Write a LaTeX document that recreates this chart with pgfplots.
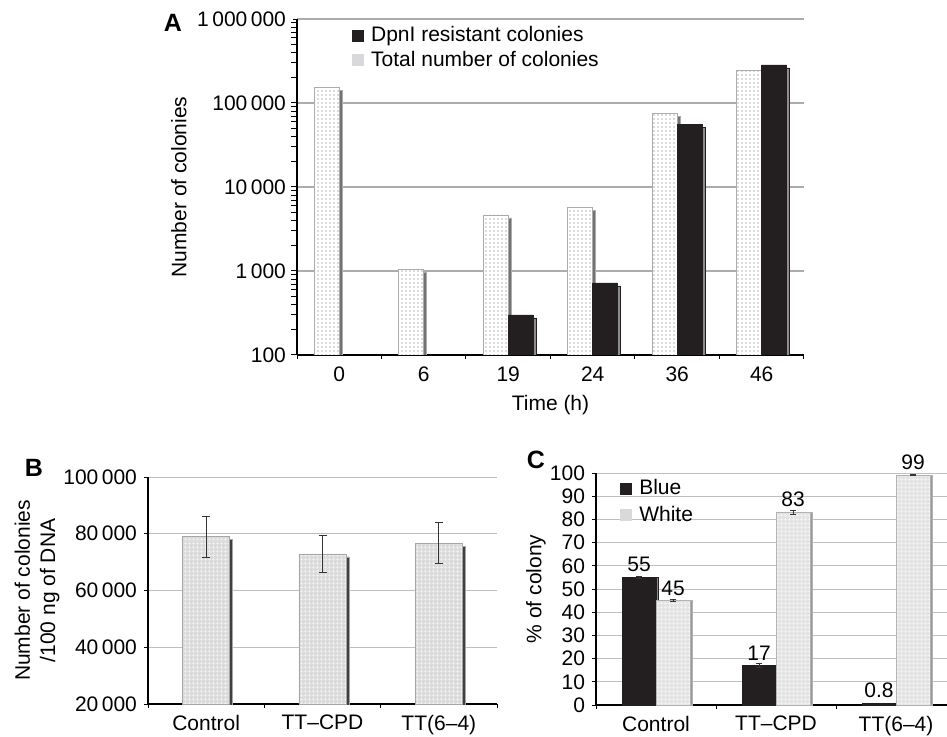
\documentclass[border=0pt]{standalone}
\usepackage{fontspec}
\setmainfont{Liberation Sans}
\usepackage{pgfplots}
\pgfplotsset{compat=1.18}
\usetikzlibrary{patterns,shadows}

\pgfdeclarepatternformonly{fdots}{\pgfqpoint{-0.5pt}{-0.5pt}}{\pgfqpoint{2.5pt}{2.5pt}}{\pgfqpoint{2pt}{2pt}}{%
  \pgfpathcircle{\pgfqpoint{1pt}{1pt}}{0.35pt}\pgfusepath{fill}}
\pgfdeclarepatternformonly{fgrid}{\pgfqpoint{0pt}{0pt}}{\pgfqpoint{2pt}{2pt}}{\pgfqpoint{2pt}{2pt}}{%
  \pgfsetlinewidth{0.35pt}%
  \pgfpathmoveto{\pgfqpoint{0pt}{1pt}}\pgfpathlineto{\pgfqpoint{2pt}{1pt}}%
  \pgfpathmoveto{\pgfqpoint{1pt}{0pt}}\pgfpathlineto{\pgfqpoint{1pt}{2pt}}%
  \pgfusepath{stroke}}

\definecolor{barblack}{HTML}{231F20}
\definecolor{leggray}{HTML}{D9D9DB}

\pgfplotsset{
  every axis/.append style={
    font=\fontsize{10.5}{12.6}\selectfont,
    scale only axis,
    /pgf/number format/assume math mode=true,
    scaled y ticks=false,
    axis x line*=bottom, axis y line*=left,
    axis line style={black, line width=0.6pt},
    tick style={black, line width=0.5pt},
    tick align=outside, major tick length=2pt,
    ymajorgrids,
    legend image code/.code={\path[##1, draw=none] (0pt,-3pt) rectangle (6pt,3pt);},
    legend cell align=left,
  },
}

\begin{document}
\begin{tikzpicture}
\path[use as bounding box] (0pt,0pt) rectangle (473.5pt,-368.5pt);

% ---------------- Panel A ----------------
\begin{axis}[
  at={(148.5pt,-177.5pt)}, anchor=south west,
  width=253.5pt, height=168pt,
  ymode=log, ymin=100, ymax=1000000, log origin=infty,
  ytick={100,1000,10000,100000,1000000},
  yticklabels={100,1\,000,10\,000,100\,000,1\,000\,000},
  xmin=-0.5, xmax=5.5,
  xtick={-0.5,0.5,1.5,2.5,3.5,4.5,5.5}, xticklabels={,,,,,,},
  extra x ticks={0,1,2,3,4,5},
  extra x tick labels={0,6,19,24,36,46},
  extra x tick style={major tick length=0pt, grid=none,
    xticklabel style={yshift=-2.5pt}},
  grid style={gray!65, line width=0.6pt},
  ylabel={Number of colonies},
  ylabel style={at={(axis description cs:-0.233,0.5)}, anchor=center},
  xlabel={Time (h)},
  xlabel style={at={(axis description cs:0.5,-0.149)}, anchor=center},
  legend style={at={(axis description cs:0.108,0.99)}, anchor=north west,
    draw=none, fill=none, inner sep=0pt, row sep=-1pt,
    nodes={inner xsep=3.5pt},
    font=\fontsize{10.5}{12.6}\selectfont},
]
\addlegendimage{fill=barblack}
\addlegendentry{DpnI resistant colonies}
\addlegendimage{fill=leggray}
\addlegendentry{Total number of colonies}

\addplot[ybar, bar width=0.296, bar shift=-0.148, forget plot,
  fill=white, draw=gray!65, line width=0.4pt,
  drop shadow={shadow xshift=1.5pt, shadow yshift=-1.5pt, fill=black!55, opacity=1},
  postaction={pattern=fdots, pattern color=black!60}]
  coordinates {(0,152000) (1,1050) (2,4650) (3,5760) (4,75000) (5,247000)};
\addplot[ybar, bar width=0.296, bar shift=0.148, forget plot,
  fill=barblack, draw=barblack, line width=0.3pt,
  drop shadow={shadow xshift=1.5pt, shadow yshift=-1.5pt, fill=black!45, opacity=1}]
  coordinates {(2,300) (3,720) (4,56000) (5,284000)};
\end{axis}

% ---------------- Panel B ----------------
\begin{axis}[
  at={(74pt,-352pt)}, anchor=south west,
  width=174.5pt, height=113.5pt,
  ymin=20000, ymax=100000,
  ytick={20000,40000,60000,80000,100000},
  yticklabels={20\,000,40\,000,60\,000,80\,000,100\,000},
  xmin=-0.5, xmax=2.5,
  xtick={-0.5,0.5,1.5,2.5}, xticklabels={,,,},
  extra x ticks={0,1,2},
  extra x tick labels={Control,TT\textendash CPD,TT(6\textendash 4)},
  extra x tick style={major tick length=0pt, grid=none,
    xticklabel style={yshift=-2pt}},
  grid style={gray!50, line width=0.5pt},
  ylabel={Number of colonies\\/100 ng of DNA},
  ylabel style={at={(axis description cs:-0.318,0.5)}, anchor=center, align=center},
]
\addplot[ybar, bar width=0.405, bar shift=0pt, forget plot,
  fill=gray!28, draw=gray!70, line width=0.4pt,
  drop shadow={shadow xshift=1.5pt, shadow yshift=-1.5pt, fill=black!75, opacity=1},
  postaction={pattern=fgrid, pattern color=gray!8}]
  coordinates {(0,78900) (1,72900) (2,76700)};
\addplot[draw=none, mark=none, forget plot,
  error bars/.cd, y dir=both, y explicit,
  error bar style={draw=black!80, line width=0.5pt},
  error mark options={draw=black!80, mark size=2pt, line width=0.5pt, rotate=90}]
  coordinates {(0,78900) +- (0,7100) (1,72900) +- (0,6400) (2,76700) +- (0,7200)};
\end{axis}

% ---------------- Panel C ----------------
\begin{axis}[
  at={(298pt,-352.5pt)}, anchor=south west,
  width=175.5pt, height=116pt,
  clip=false,
  ymin=0, ymax=100, ytick={0,10,...,100},
  xmin=-0.5, xmax=2.425,
  xtick={-0.5,0.5,1.5}, xticklabels={,,},
  extra x ticks={0,1,2},
  extra x tick labels={Control,TT\textendash CPD,TT(6\textendash 4)},
  extra x tick style={major tick length=0pt, grid=none,
    xticklabel style={yshift=-2pt}},
  grid style={gray!50, line width=0.5pt},
  ylabel={\% of colony},
  ylabel style={at={(axis description cs:-0.171,0.5)}, anchor=center},
  legend style={at={(axis description cs:0.068,0.99)}, anchor=north west,
    draw=none, fill=none, inner sep=0pt, row sep=0pt,
    nodes={inner xsep=3.5pt},
    font=\fontsize{10.5}{12.6}\selectfont},
]
\addlegendimage{fill=barblack}
\addlegendentry{Blue}
\addlegendimage{fill=leggray}
\addlegendentry{White}

\addplot[ybar, bar width=0.283, bar shift=-0.1417, forget plot,
  fill=barblack, draw=barblack, line width=0.3pt,
  drop shadow={shadow xshift=1pt, shadow yshift=0pt, fill=black!45, opacity=1}]
  coordinates {(0,55) (1,17) (2,0.8)};
\addplot[ybar, bar width=0.283, bar shift=0.1417, forget plot,
  fill=gray!22, draw=gray!60, line width=0.4pt,
  drop shadow={shadow xshift=1.2pt, shadow yshift=0pt, fill=black!40, opacity=1},
  postaction={pattern=fgrid, pattern color=gray!6}]
  coordinates {(0,45) (1,83) (2,99)};
\addplot[draw=none, mark=none, forget plot,
  error bars/.cd, y dir=both, y explicit,
  error bar style={draw=black!80, line width=0.4pt},
  error mark options={draw=black!80, mark size=1.5pt, line width=0.4pt, rotate=90}]
  coordinates {(-0.1417,55) +- (0,0.5) (0.8583,17) +- (0,1.0)
               (0.1417,45) +- (0,0.5) (1.1417,83) +- (0,1.0) (2.1417,99) +- (0,0.2)};
\addplot[draw=none, mark=none, forget plot,
  nodes near coords,
  every node near coord/.append style={font=\fontsize{10.5}{12.6}\selectfont,
    anchor=south, inner sep=2.5pt, text=black}]
  coordinates {(-0.1417,55) (0.1417,45) (0.8583,17) (1.1417,83) (1.8583,0.8) (2.1417,99)};
\end{axis}

% Panel letters
\node[font=\fontsize{12.5}{14}\selectfont\bfseries] at (86.5pt,-11.5pt) {A};
\node[font=\fontsize{12.5}{14}\selectfont\bfseries] at (17pt,-234pt) {B};
\node[font=\fontsize{12.5}{14}\selectfont\bfseries] at (268pt,-230pt) {C};
\end{tikzpicture}
\end{document}
